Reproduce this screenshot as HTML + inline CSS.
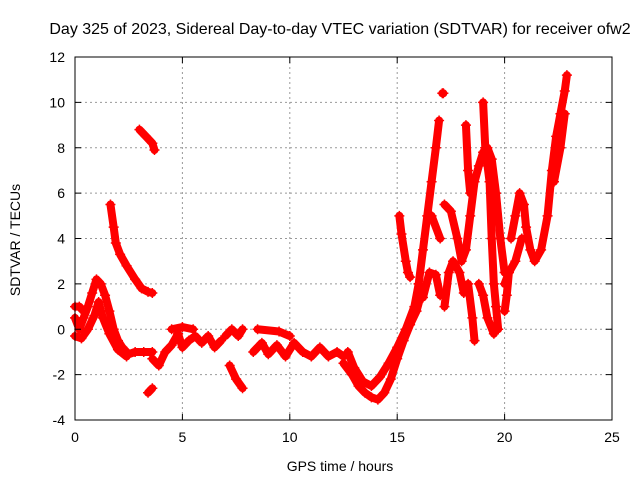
<!DOCTYPE html>
<html><head><meta charset="utf-8"><style>
body{margin:0;background:#fff}
svg text{font-family:"Liberation Sans",sans-serif;font-size:14px;fill:#000}
</style></head><body>
<svg id="chart" width="640" height="480" xmlns="http://www.w3.org/2000/svg">
<rect width="640" height="480" fill="#fff"/>
<text x="340" y="34" text-anchor="middle" style="font-size:16px">Day 325 of 2023, Sidereal Day-to-day VTEC variation (SDTVAR) for receiver ofw2</text>
<text x="340" y="471" text-anchor="middle">GPS time / hours</text>
<text transform="translate(20,240) rotate(-90)" text-anchor="middle">SDTVAR / TECUs</text>
<g id="grid"></g><g id="series"></g><g id="axes"></g>
</svg>
<script>
const xTicks=[0,5,10,15,20,25];
const yTicks=[-4,-2,0,2,4,6,8,10,12];
const traceTimes=[
[0,0.2,0.4,0.6,0.8,1.0,1.2,1.4,1.6,1.8,2.0,2.2,2.5,2.8,3.2,3.6],
[0,0.3,0.6,0.9,1.1,1.3,1.6,2.0,2.4],
[0,0.2,0.4],
[1.65,1.8,1.9,2.1,2.4,2.8,3.1,3.4,3.6],
[3.0,3.3,3.6,3.7],
[3.4,3.6],
[3.6,3.9,4.2,4.5,4.8,5.0,5.3,5.6,5.9,6.2,6.5,6.8],
[4.5,5.0,5.5],
[7.0,7.3,7.6,7.8],
[7.2,7.5,7.8],
[8.3,8.7,9.0,9.4,9.8,10.2,10.6,11.0,11.4,11.8,12.2,12.5],
[8.5,9.5,10.0],
[12.5,12.9,13.2,13.5,13.8,14.1,14.4,14.7,15.0,15.3,15.6,15.9,16.1],
[12.7,13.0,13.4,13.8,14.2,14.6,15.0,15.4,15.8,16.0],
[15.1,15.2,15.4,15.5,15.6],
[16.0,16.2,16.4,16.6,16.8,16.95],
[16.2,16.5,16.8,17.0],
[16.6,17.0],
[17.1,17.15],
[17.2,17.4,17.6,17.9,18.1,18.3,18.5,18.6],
[17.2,17.5,17.8,18.0,18.2,18.4,18.6,18.8,19.0,19.2,19.4,19.6,19.8,20.0],
[18.2,18.3,18.4],
[19.0,19.1,19.3,19.4,19.5,19.6,19.7],
[18.8,19.0,19.2,19.5],
[20.0,20.2,20.5,20.8],
[20.3,20.5,20.7,20.9,21.0,21.2,21.4,21.7,22.0,22.2,22.4,22.6,22.8,22.9],
[22.3,22.6,22.8],
[20.0,20.1,20.2]
];
const traceValues=[
[0.5,0.0,0.5,1.0,1.6,2.2,2.0,1.5,0.8,0.0,-0.5,-0.8,-1.1,-1.0,-1.0,-1.0],
[-0.3,-0.4,0.0,0.6,1.2,0.5,-0.2,-0.9,-1.2],
[1.0,1.0,0.8],
[5.5,4.5,3.8,3.3,2.8,2.2,1.8,1.65,1.6],
[8.8,8.5,8.2,7.9],
[-2.8,-2.6],
[-1.3,-1.6,-1.0,-0.7,-0.2,-0.8,-0.5,-0.3,-0.6,-0.3,-0.8,-0.5],
[0.0,0.1,0.0],
[-0.3,0.0,-0.3,0.0],
[-1.6,-2.2,-2.6],
[-1.0,-0.6,-1.1,-0.7,-1.2,-0.6,-1.0,-1.2,-0.8,-1.2,-1.0,-1.2],
[0.0,-0.1,-0.3],
[-1.5,-2.0,-2.5,-2.8,-3.0,-3.1,-2.8,-2.2,-1.3,-0.5,0.2,0.8,1.5],
[-1.0,-1.7,-2.3,-2.5,-2.1,-1.5,-0.8,0.0,1.0,2.0],
[5.0,4.2,3.0,2.5,2.3],
[2.0,3.5,5.0,6.5,8.0,9.2],
[1.4,2.5,2.4,1.5],
[5.0,4.0],
[10.4,10.4],
[1.0,2.5,3.0,2.5,1.6,2.0,0.5,-0.5],
[5.5,5.2,4.0,3.0,3.5,5.0,6.5,7.2,7.8,8.0,7.5,6.0,4.0,2.5],
[9.0,7.0,6.0],
[10.0,8.0,6.5,4.0,2.0,1.0,0.0],
[2.0,1.5,0.5,-0.2],
[2.0,2.5,3.0,4.0],
[4.0,5.0,6.0,5.5,4.5,3.5,3.0,3.5,5.0,7.0,8.5,9.5,10.5,11.2],
[6.5,8.0,9.5],
[0.8,1.5,2.5]
];
const X0=75,X1=612,Y0=420,Y1=57;
const xs=t=>X0+(t-0)/(25-0)*(X1-X0);
const ys=v=>Y0-(v+4)/(16)*(Y0-Y1);
const NS="http://www.w3.org/2000/svg";
function mk(tag,attrs,parent){const e=document.createElementNS(NS,tag);for(const k in attrs)e.setAttribute(k,attrs[k]);parent.appendChild(e);return e;}
const grid=document.getElementById('grid'),axes=document.getElementById('axes'),series=document.getElementById('series');
xTicks.forEach(t=>{
 if(t>0&&t<25){const g=mk('line',{x1:xs(t),x2:xs(t),y1:Y1,y2:Y0,stroke:'#999','stroke-dasharray':'2,3'},grid);
 
 }
 const l=mk('text',{x:xs(t),y:Y0+22,'text-anchor':'middle'},axes);l.textContent=t;
 
 
 mk('line',{x1:xs(t),x2:xs(t),y1:Y0,y2:Y0-6,stroke:'#000'},axes);
 mk('line',{x1:xs(t),x2:xs(t),y1:Y1,y2:Y1+6,stroke:'#000'},axes);
});
yTicks.forEach(v=>{
 if(v>-4&&v<12){const g=mk('line',{x1:X0,x2:X1,y1:ys(v),y2:ys(v),stroke:'#999','stroke-dasharray':'2,3'},grid);
 
 }
 const l=mk('text',{x:X0-10,y:ys(v)+5,'text-anchor':'end'},axes);l.textContent=v;
 
 
 mk('line',{x1:X0,x2:X0+6,y1:ys(v),y2:ys(v),stroke:'#000'},axes);
 mk('line',{x1:X1,x2:X1-6,y1:ys(v),y2:ys(v),stroke:'#000'},axes);
});
const fr=mk('rect',{x:X0,y:Y1,width:X1-X0,height:Y0-Y1,fill:'none',stroke:'#000'},axes);


traceTimes.forEach((ts,i)=>{
 const vs=traceValues[i];
 const pts=ts.map((t,j)=>xs(t)+','+ys(vs[j])).join(' ');
 const pl=mk('polyline',{points:pts,fill:'none',stroke:'#f00','stroke-width':8,'stroke-linejoin':'round','stroke-linecap':'round'},series);
 
 
 ts.forEach((t,j)=>{
  const x=xs(t),y=ys(vs[j]);
  const p=mk('path',{d:`M${x-5},${y}H${x+5}M${x},${y-5}V${y+5}`,stroke:'#f00','stroke-width':1.5},series);
  
  
 });
});
</script>
</body></html>
